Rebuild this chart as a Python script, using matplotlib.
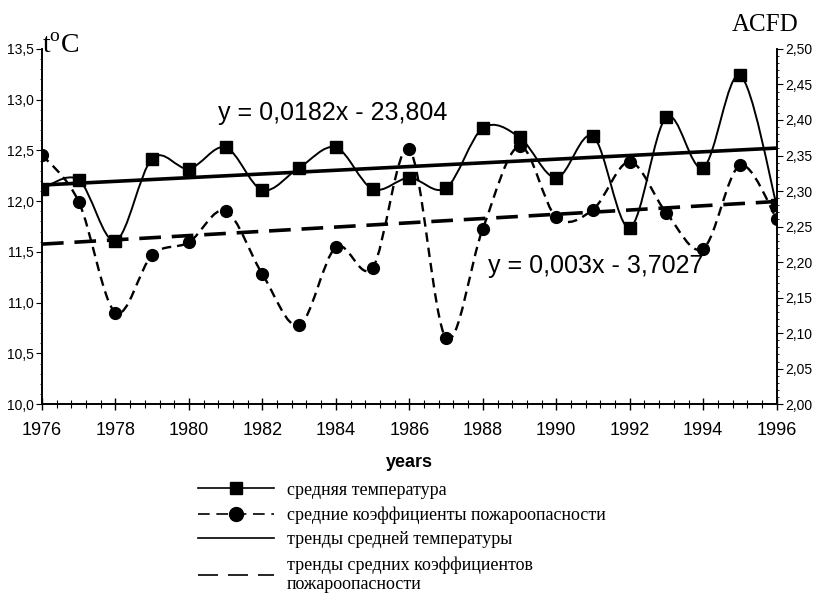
import numpy as np
import matplotlib.pyplot as plt
from matplotlib.path import Path
from matplotlib.patches import PathPatch
from matplotlib.lines import Line2D
from matplotlib.ticker import MultipleLocator, FuncFormatter

# --- data ---
years = list(range(1976, 1997))
temp = [12.12, 12.21, 11.61, 12.42, 12.32, 12.53, 12.11, 12.33, 12.53, 12.12, 12.23,
        12.13, 12.72, 12.63, 12.23, 12.64, 11.74, 12.83, 12.33, 13.24, 11.96]
acfd = [2.351, 2.285, 2.129, 2.210, 2.228, 2.272, 2.183, 2.111, 2.221, 2.192, 2.359,
        2.093, 2.247, 2.363, 2.263, 2.274, 2.341, 2.269, 2.219, 2.336, 2.261]
trend_temp = (0.0182, -23.804)
trend_acfd = (0.003, -3.7027)
eq_temp = "y = 0,0182x - 23,804"
eq_acfd = "y = 0,003x - 3,7027"
legend_labels = ["средняя температура",
                 "средние коэффициенты пожароопасности",
                 "тренды средней температуры",
                 "тренды средних коэффициентов\nпожароопасности"]

plt.rcParams['font.family'] = ['Liberation Sans', 'DejaVu Sans']


def smooth_path(x, y):
    # excel style smoothed line (cubic bezier through the points)
    x = np.asarray(x, float)
    y = np.asarray(y, float)
    n = len(x)
    verts = [(x[0], y[0])]
    codes = [Path.MOVETO]
    for i in range(n - 1):
        i0 = max(i - 1, 0)
        i3 = min(i + 2, n - 1)
        c1 = (x[i] + (x[i + 1] - x[i0]) / 6, y[i] + (y[i + 1] - y[i0]) / 6)
        c2 = (x[i + 1] - (x[i3] - x[i]) / 6, y[i + 1] - (y[i3] - y[i]) / 6)
        verts += [c1, c2, (x[i + 1], y[i + 1])]
        codes += [Path.CURVE4] * 3
    return Path(verts, codes)


fig = plt.figure(figsize=(8.15, 5.97), dpi=100)
ax = fig.add_axes([0.0515, 0.323, 0.9015, 0.595])
ax2 = ax.twinx()

# temperature (left axis)
ax.add_patch(PathPatch(smooth_path(years, temp), fill=False, lw=1.4, color='black'))
ax.plot(years, temp, ls='none', marker='s', ms=9, color='black')
tx = np.array([1976, 1996])
ax.plot(tx, trend_temp[0] * tx + trend_temp[1], color='black', lw=2.6)

# ACFD (right axis)
ax2.add_patch(PathPatch(smooth_path(years, acfd), fill=False, lw=1.7, color='black',
                        linestyle=(0, (4, 2.5))))
ax2.plot(years, acfd, ls='none', marker='o', ms=8.5, color='black')
ax2.plot(tx, trend_acfd[0] * tx + trend_acfd[1], color='black', lw=2.6,
         linestyle=(0, (6, 3)))

ax.set_xlim(1976, 1996)
ax.set_ylim(10.0, 13.5)
ax2.set_ylim(2.0, 2.5)

ax.xaxis.set_major_locator(MultipleLocator(2))
ax.xaxis.set_minor_locator(MultipleLocator(0.4))
ax.yaxis.set_major_locator(MultipleLocator(0.5))
ax.yaxis.set_minor_locator(MultipleLocator(0.1))
ax2.yaxis.set_major_locator(MultipleLocator(0.05))
ax2.yaxis.set_minor_locator(MultipleLocator(0.01))
ax.yaxis.set_major_formatter(FuncFormatter(lambda v, p: f"{v:.1f}".replace('.', ',')))
ax2.yaxis.set_major_formatter(FuncFormatter(lambda v, p: f"{v:.2f}".replace('.', ',')))

ax.tick_params(axis='x', which='major', direction='inout', length=9, width=1,
               labelsize=13, pad=8)
ax.tick_params(axis='x', which='minor', direction='inout', length=6, width=0.8)
ax.tick_params(axis='y', which='major', direction='out', length=4, labelsize=10, pad=2)
ax.tick_params(axis='y', which='minor', direction='out', length=1.5, width=0.6)
ax2.tick_params(axis='y', which='major', direction='out', length=4, labelsize=10, pad=2)
ax2.tick_params(axis='y', which='minor', direction='out', length=1.5, width=0.6)
for a in (ax, ax2):
    a.spines['top'].set_visible(False)
    for s in ('left', 'right', 'bottom'):
        a.spines[s].set_linewidth(1.2)

ax.set_xlabel("years", fontsize=13, fontweight='bold', labelpad=11)

ax.text(1980.8, 12.87, eq_temp, fontsize=18, va='center')
ax.text(1988.15, 11.36, eq_acfd, fontsize=18, va='center')

fig.text(0.052, 0.902, "t$^{\\mathregular{o}}$C", fontsize=20, family='Liberation Serif',
         va='bottom', ha='left')
fig.text(0.98, 0.94, "ACFD", fontsize=18, family='Liberation Serif', va='bottom', ha='right')

handles = [
    Line2D([], [], color='black', lw=1.2, marker='s', ms=9),
    Line2D([], [], color='black', lw=1.2, marker='o', ms=10, linestyle=(0, (7, 4))),
    Line2D([], [], color='black', lw=1.2),
    Line2D([], [], color='black', lw=1.2, linestyle=(0, (12, 6))),
]
fig.legend(handles, legend_labels, loc='upper left', bbox_to_anchor=(0.243, 0.193),
           frameon=False, handlelength=4.2, handletextpad=0.7,
           labelspacing=0.42, borderpad=0, borderaxespad=0,
           prop={'family': 'Liberation Serif', 'size': 13.0})

fig.savefig("out.png", dpi=100, facecolor='white')
